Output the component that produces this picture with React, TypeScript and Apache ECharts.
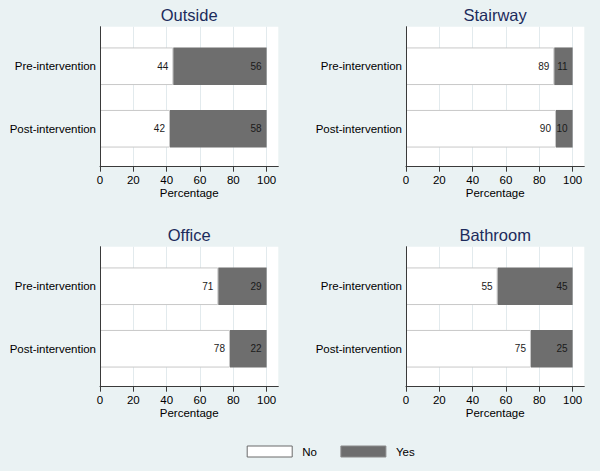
import React, { useEffect, useRef } from "react";
import * as echarts from "echarts";

const panelTitles = ["Outside", "Stairway", "Office", "Bathroom"];
const categories = ["Pre-intervention", "Post-intervention"];
const noValues = [
  [44, 42],
  [89, 90],
  [71, 78],
  [55, 75],
];
const yesValues = [
  [56, 58],
  [11, 10],
  [29, 22],
  [45, 25],
];
const tickValues = [0, 20, 40, 60, 80, 100];
const seriesNames = ["No", "Yes"];

const FONT = "Liberation Sans, Arial, Helvetica, sans-serif";
const BG = "#eaf2f3";
const GRID_COLOR = "#e2eaed";
const AXIS_COLOR = "#3a3a3a";
const YES_COLOR = "#6e6e6e";
const TITLE_COLOR = "#1c2b5c";

// layout
const panelLeft = [100, 406, 100, 406];
const panelTop = [26.7, 26.7, 246.7, 246.7];
const panelWidth = 178.3;
const panelHeight = 140;
const barGridOffset = 8.3;
const barGridHeight = 125;
const X_MAX = 107;

export default function App() {
  const ref = useRef<HTMLDivElement>(null);

  useEffect(() => {
    if (!ref.current) return;
    const chart = echarts.init(ref.current, null, { renderer: "svg" });

    const grids: any[] = [];
    const xAxes: any[] = [];
    const yAxes: any[] = [];
    const series: any[] = [];
    const graphics: any[] = [];

    // frame grids 0..3
    for (let i = 0; i < 4; i++) {
      grids.push({
        left: panelLeft[i],
        top: panelTop[i],
        width: panelWidth,
        height: panelHeight,
        show: true,
        backgroundColor: "#ffffff",
        borderWidth: 0,
        containLabel: false,
      });
      xAxes.push({
        type: "value",
        gridIndex: i,
        min: 0,
        max: X_MAX,
        interval: 20,
        name: "Percentage",
        nameLocation: "middle",
        nameGap: 20,
        nameTextStyle: { fontSize: 11.5, color: "#000", fontFamily: FONT },
        axisLine: { show: true, lineStyle: { color: AXIS_COLOR, width: 1 } },
        axisTick: {
          show: true,
          length: 5,
          lineStyle: { color: AXIS_COLOR },
          customValues: tickValues,
        },
        axisLabel: {
          show: true,
          fontSize: 11.5,
          color: "#000",
          margin: 7,
          fontFamily: FONT,
          customValues: tickValues,
        },
        splitLine: { show: true, lineStyle: { color: GRID_COLOR, width: 1 } },
      });
      yAxes.push({
        type: "value",
        gridIndex: i,
        min: 0,
        max: 1,
        z: 5,
        axisLine: { show: true, lineStyle: { color: AXIS_COLOR, width: 1 } },
        axisTick: { show: false },
        axisLabel: { show: false },
        splitLine: { show: false },
      });
      graphics.push({
        type: "text",
        x: panelLeft[i] + panelWidth / 2,
        y: panelTop[i] - 11.7,
        style: {
          text: panelTitles[i],
          font: `16.5px ${FONT}`,
          fill: TITLE_COLOR,
          align: "center",
          verticalAlign: "middle",
        },
      });
    }

    // bar grids 4..7
    for (let i = 0; i < 4; i++) {
      const gi = 4 + i;
      grids.push({
        left: panelLeft[i],
        top: panelTop[i] + barGridOffset,
        width: panelWidth,
        height: barGridHeight,
        show: false,
        containLabel: false,
      });
      xAxes.push({
        type: "value",
        gridIndex: gi,
        min: 0,
        max: X_MAX,
        show: false,
      });
      yAxes.push({
        type: "category",
        gridIndex: gi,
        data: categories,
        inverse: true,
        axisLine: { show: false },
        axisTick: { show: false },
        splitLine: { show: false },
        axisLabel: {
          show: true,
          fontSize: 11.5,
          color: "#000",
          margin: 4,
          fontFamily: FONT,
        },
      });
      const label = {
        show: true,
        position: "insideRight",
        distance: 5,
        fontSize: 10,
        color: "#1a1a1a",
        fontFamily: FONT,
      };
      series.push({
        name: seriesNames[0],
        type: "bar",
        xAxisIndex: gi,
        yAxisIndex: gi,
        stack: "s" + i,
        barWidth: 37.6,
        data: noValues[i],
        itemStyle: { color: "#ffffff", borderColor: "#c8c8c8", borderWidth: 1 },
        label,
      });
      series.push({
        name: seriesNames[1],
        type: "bar",
        xAxisIndex: gi,
        yAxisIndex: gi,
        stack: "s" + i,
        barWidth: 37.6,
        data: yesValues[i],
        itemStyle: { color: YES_COLOR, borderColor: YES_COLOR, borderWidth: 0 },
        label,
      });
    }

    chart.setOption({
      animation: false,
      backgroundColor: BG,
      textStyle: { fontFamily: FONT },
      grid: grids,
      xAxis: xAxes,
      yAxis: yAxes,
      series,
      graphic: graphics,
      legend: {
        left: 246.7,
        top: 445.5,
        padding: 0,
        itemWidth: 45,
        itemHeight: 11,
        itemGap: 23.5,
        icon: "rect",
        selectedMode: false,
        textStyle: {
          fontSize: 11.5,
          color: "#000",
          fontFamily: FONT,
          padding: [0, 0, 0, 5],
        },
        data: [
          {
            name: seriesNames[0],
            itemStyle: { color: "#ffffff", borderColor: "#6a6a6a", borderWidth: 1 },
          },
          {
            name: seriesNames[1],
            itemStyle: { color: YES_COLOR, borderColor: "#8a8a8a", borderWidth: 1 },
          },
        ],
      },
    });

    return () => chart.dispose();
  }, []);

  return (
    <div
      ref={ref}
      style={{ position: "absolute", left: 0, top: 0, width: 600, height: 471 }}
    />
  );
}
